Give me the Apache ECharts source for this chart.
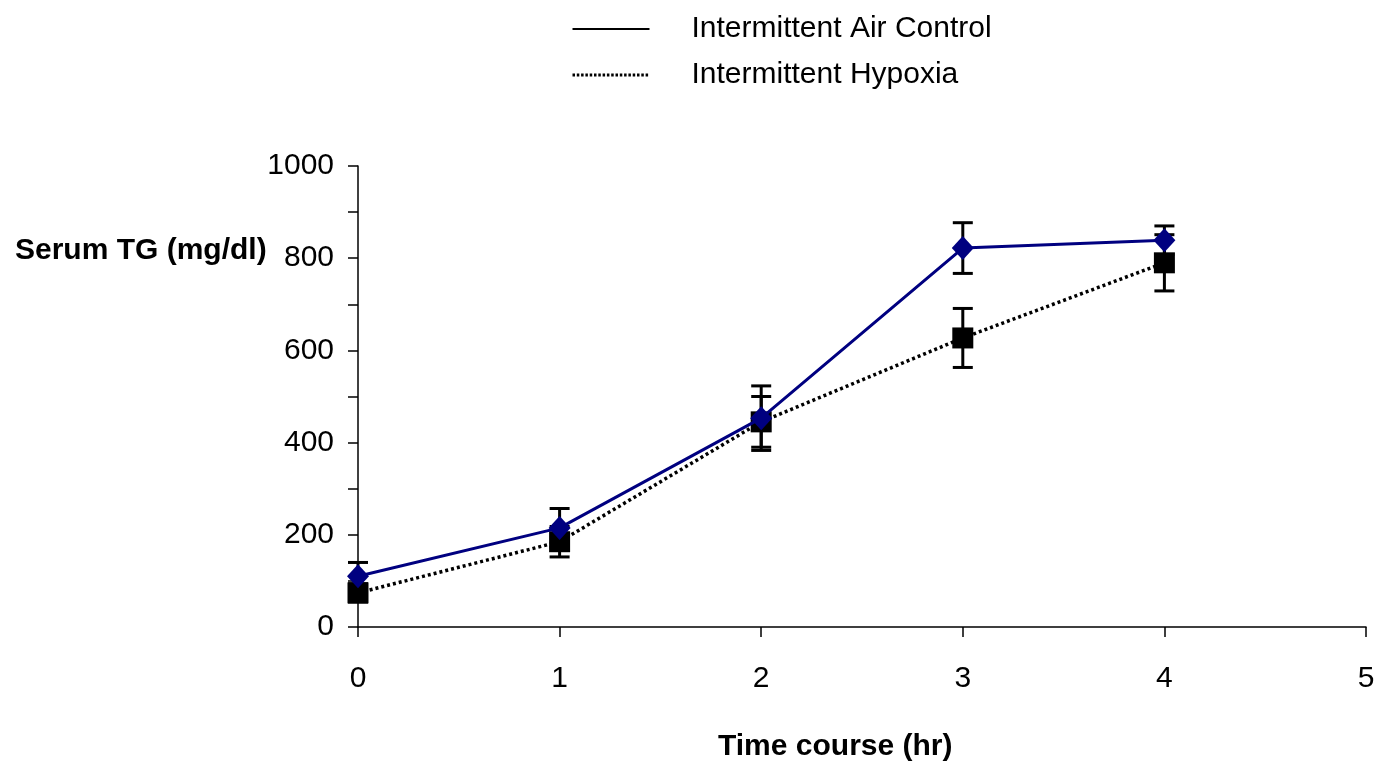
<!DOCTYPE html>
<html>
<head>
<meta charset="utf-8">
<script src="https://cdn.jsdelivr.net/npm/echarts@6/dist/echarts.min.js"></script>
<style>
html, body { margin: 0; padding: 0; background: #fff; }
#chart { width: 1382px; height: 765px; }
</style>
</head>
<body>
<div id="chart"></div>
<script>
// data
var hours = [0, 1, 2, 3, 4];
var controlMean = [110, 215, 453, 822, 839];
var controlErr = [30, 42, 70, 55, 31];
var hypoxiaMean = [74, 185, 445, 627, 790];
var hypoxiaErr = [20, 33, 55, 64, 61];

var FONT = 'Arial';

function pairs(xs, ys) {
    return xs.map(function (x, i) { return [x, ys[i]]; });
}
function errRows(xs, ys, es) {
    return xs.map(function (x, i) { return [x, ys[i] - es[i], ys[i] + es[i]]; });
}

// error bars drawn through the axes
function errorBarItem(params, api) {
    var lo = api.coord([api.value(0), api.value(1)]);
    var hi = api.coord([api.value(0), api.value(2)]);
    var half = 10;
    var style = { stroke: '#000', lineWidth: 3 };
    return {
        type: 'group',
        children: [
            { type: 'line', shape: { x1: hi[0], y1: hi[1], x2: lo[0], y2: lo[1] }, style: style },
            { type: 'line', shape: { x1: hi[0] - half, y1: hi[1], x2: hi[0] + half, y2: hi[1] }, style: style },
            { type: 'line', shape: { x1: lo[0] - half, y1: lo[1], x2: lo[0] + half, y2: lo[1] }, style: style }
        ]
    };
}

var chart = echarts.init(document.getElementById('chart'));
var option = {
    animation: false,
    textStyle: { fontFamily: FONT },
    grid: { left: 358, right: 16, top: 166, bottom: 138 },
    title: [
        {
            text: 'Serum TG (mg/dl)', left: 10, top: 231,
            textStyle: { fontFamily: FONT, fontSize: 30, fontWeight: 'bold', color: '#000' }
        },
        {
            text: 'Time course (hr)', left: 713, top: 727,
            textStyle: { fontFamily: FONT, fontSize: 30, fontWeight: 'bold', color: '#000' }
        }
    ],
    legend: {
        orient: 'vertical',
        left: 566, top: 9,
        itemWidth: 77, itemHeight: 14,
        itemGap: 16,
        itemStyle: { opacity: 0 },
        textStyle: { fontFamily: FONT, fontSize: 30, color: '#000', padding: [0, 0, 0, 37] },
        data: [
            { name: 'Intermittent Air Control', lineStyle: { color: '#000', width: 2 } },
            { name: 'Intermittent Hypoxia', lineStyle: { color: '#000', width: 3, type: [2.5, 1.8] } }
        ]
    },
    xAxis: {
        type: 'value', min: 0, max: 5, interval: 1,
        axisLine: { onZero: false, lineStyle: { color: '#000', width: 1.5 } },
        axisTick: { show: true, inside: false, length: 10, lineStyle: { color: '#000', width: 1.5 } },
        axisLabel: { fontSize: 30, color: '#000', margin: 37, fontFamily: FONT },
        splitLine: { show: false }
    },
    yAxis: {
        type: 'value', min: 0, max: 1000, interval: 200,
        axisLine: { show: true, lineStyle: { color: '#000', width: 1.5 } },
        axisTick: { show: true, inside: false, length: 10, lineStyle: { color: '#000', width: 1.5 } },
        minorTick: { show: true, splitNumber: 2, length: 10, lineStyle: { color: '#000', width: 1.5 } },
        axisLabel: {
            fontSize: 30, color: '#000', margin: 24, fontFamily: FONT,
            formatter: function (v) { return String(v); }
        },
        splitLine: { show: false }
    },
    series: [
        {
            type: 'custom', name: 'errControl', renderItem: errorBarItem,
            data: errRows(hours, controlMean, controlErr), z: 1, silent: true
        },
        {
            type: 'custom', name: 'errHypoxia', renderItem: errorBarItem,
            data: errRows(hours, hypoxiaMean, hypoxiaErr), z: 1, silent: true
        },
        {
            type: 'line', name: 'Intermittent Hypoxia',
            data: pairs(hours, hypoxiaMean),
            symbol: 'rect', symbolSize: 21,
            itemStyle: { color: '#000' },
            lineStyle: { color: '#000', width: 3.5, type: [3, 3] },
            z: 3
        },
        {
            type: 'line', name: 'Intermittent Air Control',
            data: pairs(hours, controlMean),
            symbol: 'diamond', symbolSize: [22, 24],
            itemStyle: { color: '#000080' },
            lineStyle: { color: '#000080', width: 3 },
            z: 4
        }
    ]
};
chart.setOption(option);
</script>
</body>
</html>
